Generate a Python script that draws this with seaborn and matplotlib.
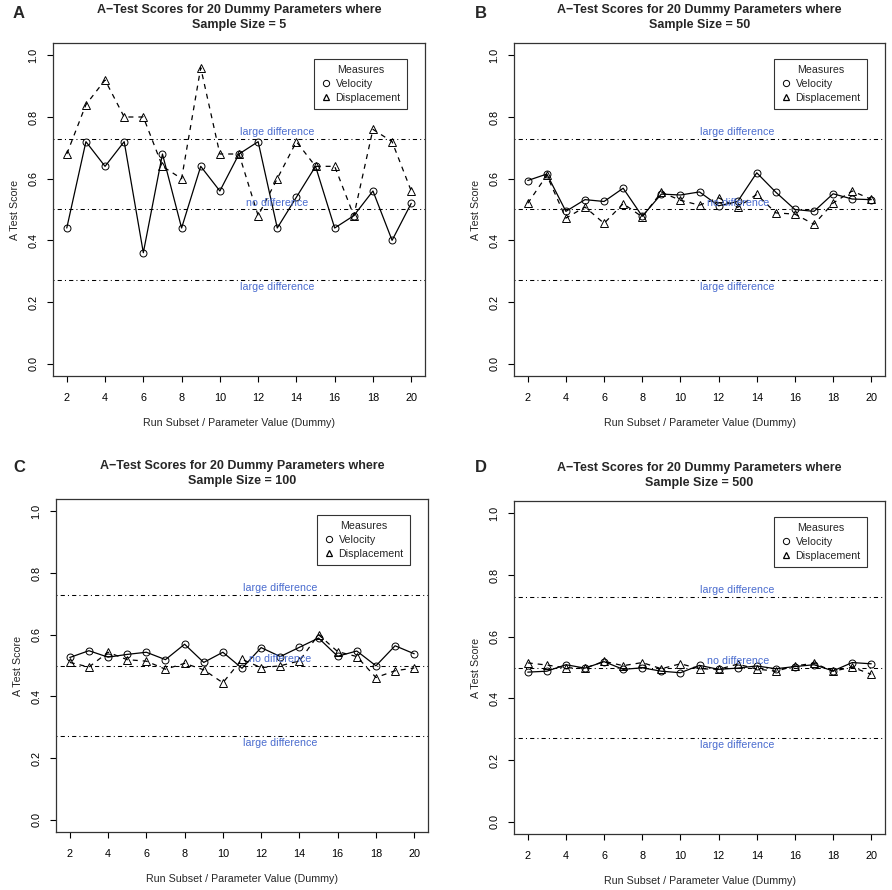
import numpy as np
import pandas as pd
import matplotlib
matplotlib.use("Agg")
import matplotlib.pyplot as plt
from matplotlib.lines import Line2D
import seaborn as sns

# parameter values (x axis) and scores per sample size
param = list(range(2, 21))

vel_5 = [0.44, 0.72, 0.64, 0.72, 0.36, 0.68, 0.44, 0.64, 0.56, 0.68,
         0.72, 0.44, 0.54, 0.64, 0.44, 0.48, 0.56, 0.40, 0.52]
disp_5 = [0.68, 0.84, 0.92, 0.80, 0.80, 0.64, 0.60, 0.96, 0.68, 0.68,
          0.48, 0.60, 0.72, 0.64, 0.64, 0.48, 0.76, 0.72, 0.56]

vel_50 = [0.594, 0.615, 0.494, 0.532, 0.526, 0.569, 0.478, 0.550, 0.547, 0.557,
          0.512, 0.526, 0.619, 0.556, 0.500, 0.494, 0.551, 0.534, 0.532]
disp_50 = [0.520, 0.611, 0.472, 0.508, 0.455, 0.519, 0.476, 0.556, 0.530, 0.514,
           0.538, 0.507, 0.549, 0.489, 0.485, 0.452, 0.521, 0.560, 0.533]

vel_100 = [0.526, 0.548, 0.527, 0.536, 0.543, 0.519, 0.569, 0.510, 0.543, 0.491,
           0.558, 0.529, 0.559, 0.589, 0.530, 0.547, 0.499, 0.564, 0.538]
disp_100 = [0.510, 0.495, 0.543, 0.519, 0.514, 0.488, 0.507, 0.486, 0.444, 0.520,
            0.493, 0.499, 0.515, 0.600, 0.545, 0.529, 0.461, 0.483, 0.492]

vel_500 = [0.485, 0.488, 0.509, 0.498, 0.519, 0.494, 0.499, 0.488, 0.483, 0.507,
           0.494, 0.498, 0.505, 0.496, 0.503, 0.509, 0.489, 0.516, 0.512]
disp_500 = [0.515, 0.508, 0.499, 0.498, 0.520, 0.506, 0.516, 0.496, 0.512, 0.496,
            0.494, 0.511, 0.495, 0.488, 0.505, 0.514, 0.488, 0.501, 0.478]

sample_sizes = [5, 50, 100, 500]
panel_letters = ["A", "B", "C", "D"]

ref_values = [0.73, 0.5, 0.27]
ref_labels = ["large difference", "no difference", "large difference"]

sns.set_style("ticks")
plt.rcParams['font.family'] = ['Liberation Sans', 'DejaVu Sans']

fig = plt.figure(figsize=(8.92, 8.90), dpi=100)

W, H = 892, 890
# axes boxes in pixels: left, top, right, bottom
boxes = [(53, 43, 425, 376), (514, 43, 885, 376),
         (56, 499, 428, 832), (514, 501, 885, 834)]
letter_pos = [(19, 14), (481, 14), (19, 468), (481, 468)]
series = [(vel_5, disp_5), (vel_50, disp_50), (vel_100, disp_100), (vel_500, disp_500)]

dotdash = (0, (1, 3, 4, 3))
blue = "#4a6ccf"

for i in range(4):
    l, t, r, b = boxes[i]
    ax = fig.add_axes([l / W, 1 - b / H, (r - l) / W, (b - t) / H])
    vel, disp = series[i]
    df = pd.DataFrame({'param': param, 'Velocity': vel, 'Displacement': disp})

    for v in ref_values:
        ax.axhline(v, color="black", lw=0.75, linestyle=dotdash, zorder=1)

    sns.lineplot(data=df, x='param', y='Velocity', ax=ax, color='black', lw=0.9,
                 marker='o', markersize=5, markerfacecolor='none',
                 markeredgecolor='black', markeredgewidth=0.7, zorder=3)
    sns.lineplot(data=df, x='param', y='Displacement', ax=ax, color='black', lw=0.9,
                 linestyle=(0, (4, 4)), marker='^', markersize=6, markerfacecolor='none',
                 markeredgecolor='black', markeredgewidth=0.7, zorder=3)

    ax.text(13, 0.735, ref_labels[0], color=blue, fontsize=7.7, ha='center', va='bottom', zorder=4)
    ax.text(13, 0.505, ref_labels[1], color=blue, fontsize=7.7, ha='center', va='bottom', zorder=4)
    ax.text(13, 0.265, ref_labels[2], color=blue, fontsize=7.7, ha='center', va='top', zorder=4)

    ax.set_xlim(1.28, 20.72)
    ax.set_ylim(-0.04, 1.04)
    ax.set_xticks(range(2, 21, 2))
    ax.set_yticks([0.0, 0.2, 0.4, 0.6, 0.8, 1.0])
    ax.set_yticklabels(["0.0", "0.2", "0.4", "0.6", "0.8", "1.0"], rotation=90, va='center')
    ax.tick_params(labelsize=7.8, length=4, width=0.8, colors='black')
    ax.tick_params(axis='x', pad=8)
    ax.tick_params(axis='y', pad=6.5)
    for s in ax.spines.values():
        s.set_visible(True)
        s.set_linewidth(0.9)
        s.set_color('#333333')
    ax.set_xlabel("Run Subset / Parameter Value (Dummy)", fontsize=7.7, labelpad=11)
    ax.set_ylabel("A Test Score", fontsize=7.7, labelpad=6)
    ax.set_title("A\u2212Test Scores for 20 Dummy Parameters where\nSample Size = %d" % sample_sizes[i],
                 fontsize=9, fontweight='bold', pad=10.5, linespacing=1.4)

    handles = [Line2D([], [], linestyle='none', marker='o', markersize=4.5, markerfacecolor='none',
                      markeredgecolor='black', markeredgewidth=0.7),
               Line2D([], [], linestyle='none', marker='^', markersize=5, markerfacecolor='none',
                      markeredgecolor='black', markeredgewidth=0.9)]
    leg = ax.legend(handles, ["Velocity", "Displacement"], title="Measures", loc='upper right',
                    bbox_to_anchor=(0.952, 0.952), fontsize=7.7, title_fontsize=7.7,
                    frameon=True, fancybox=False, borderaxespad=0, handlelength=1,
                    handletextpad=0.4, labelspacing=0.35, borderpad=0.6)
    leg.get_frame().set_edgecolor('black')
    leg.get_frame().set_linewidth(0.8)

    fig.text(letter_pos[i][0] / W, 1 - letter_pos[i][1] / H, panel_letters[i],
             fontsize=12, fontweight='bold', ha='center', va='center')

fig.savefig("out.png", dpi=100, facecolor='white')
